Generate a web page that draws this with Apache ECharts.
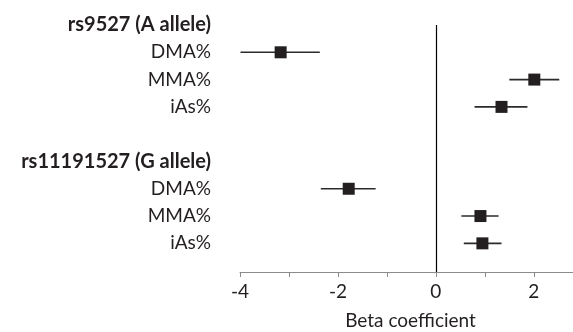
<!DOCTYPE html>
<html>
<head>
<meta charset="utf-8">
<script src="https://cdn.jsdelivr.net/npm/echarts@6/dist/echarts.min.js"></script>
<style>
  html, body { margin: 0; padding: 0; background: #fff; }
  #main { width: 573px; height: 332px; }
</style>
</head>
<body>
<div id="main"></div>
<script>
// row labels, top to bottom (empty row is the gap between the two SNPs)
const rowLabels = [
  "rs9527 (A allele)", "DMA%", "MMA%", "iAs%",
  "",
  "rs11191527 (G allele)", "DMA%", "MMA%", "iAs%"
];
const headerRows = [0, 5];

// estimates, by row index
const estRows = [1, 2, 3, 6, 7, 8];
const beta  = [-3.17, 2.01, 1.34, -1.78, 0.91, 0.95];
const lower = [-3.99, 1.50, 0.79, -2.35, 0.52, 0.57];
const upper = [-2.37, 2.52, 1.87, -1.23, 1.28, 1.34];

const xTicks = [-4, -2, 0, 2];

const FONT = "Lato, 'Open Sans', sans-serif";
const INK = "#231f20";

function renderForest() {
  const chart = echarts.init(document.getElementById('main'));

  const pointData = estRows.map((r, i) => [beta[i], r]);
  const ciData = estRows.map((r, i) => [lower[i], upper[i], r]);

  const option = {
    animation: false,
    grid: { left: 240, right: 0, top: 25, bottom: 60, outerBoundsMode: 'none' },
    xAxis: {
      type: 'value',
      min: -4,
      max: 2.8,
      interval: 1,
      axisLine: { onZero: false, lineStyle: { color: '#8c8c8c', width: 1 } },
      axisTick: { show: true, length: 5, lineStyle: { color: '#8c8c8c' } },
      splitLine: { show: false },
      axisLabel: {
        margin: 10,
        fontFamily: FONT,
        fontSize: 19,
        color: INK,
        formatter: v => (xTicks.includes(v) ? String(v) : '')
      },
      name: 'Beta coefficient',
      nameLocation: 'middle',
      nameGap: 39,
      nameTextStyle: { fontFamily: FONT, fontSize: 19, color: INK, padding: [0, 0, 0, 8] }
    },
    yAxis: {
      type: 'value',
      inverse: true,
      min: 0,
      max: 9.05,
      interval: 1,
      axisLine: { show: false },
      axisTick: { show: false },
      splitLine: { show: false },
      axisLabel: {
        margin: 29,
        fontFamily: FONT,
        fontSize: 19,
        color: INK,
        formatter: function (v) {
          const label = rowLabels[v];
          if (!label) return '';
          return headerRows.includes(v) ? '{h|' + label + '}' : label;
        },
        rich: {
          h: { fontFamily: FONT, fontSize: 20, fontWeight: 'bold', color: INK }
        }
      }
    },
    series: [
      {
        type: 'custom',
        data: ciData,
        encode: { x: [0, 1], y: 2 },
        clip: false,
        renderItem: function (params, api) {
          const a = api.coord([api.value(0), api.value(2)]);
          const b = api.coord([api.value(1), api.value(2)]);
          return {
            type: 'line',
            shape: { x1: a[0], y1: a[1], x2: b[0], y2: b[1] },
            style: { stroke: '#2b2b2b', lineWidth: 1.6 }
          };
        },
        z: 2
      },
      {
        type: 'scatter',
        data: pointData,
        symbol: 'rect',
        symbolSize: 12,
        itemStyle: { color: INK, opacity: 1 },
        z: 3,
        markLine: {
          silent: true,
          symbol: 'none',
          label: { show: false },
          lineStyle: { color: '#000', width: 1.2, type: 'solid' },
          data: [{ xAxis: 0 }]
        }
      }
    ]
  };

  chart.setOption(option);
}

window.onload = renderForest;
</script>
</body>
</html>
